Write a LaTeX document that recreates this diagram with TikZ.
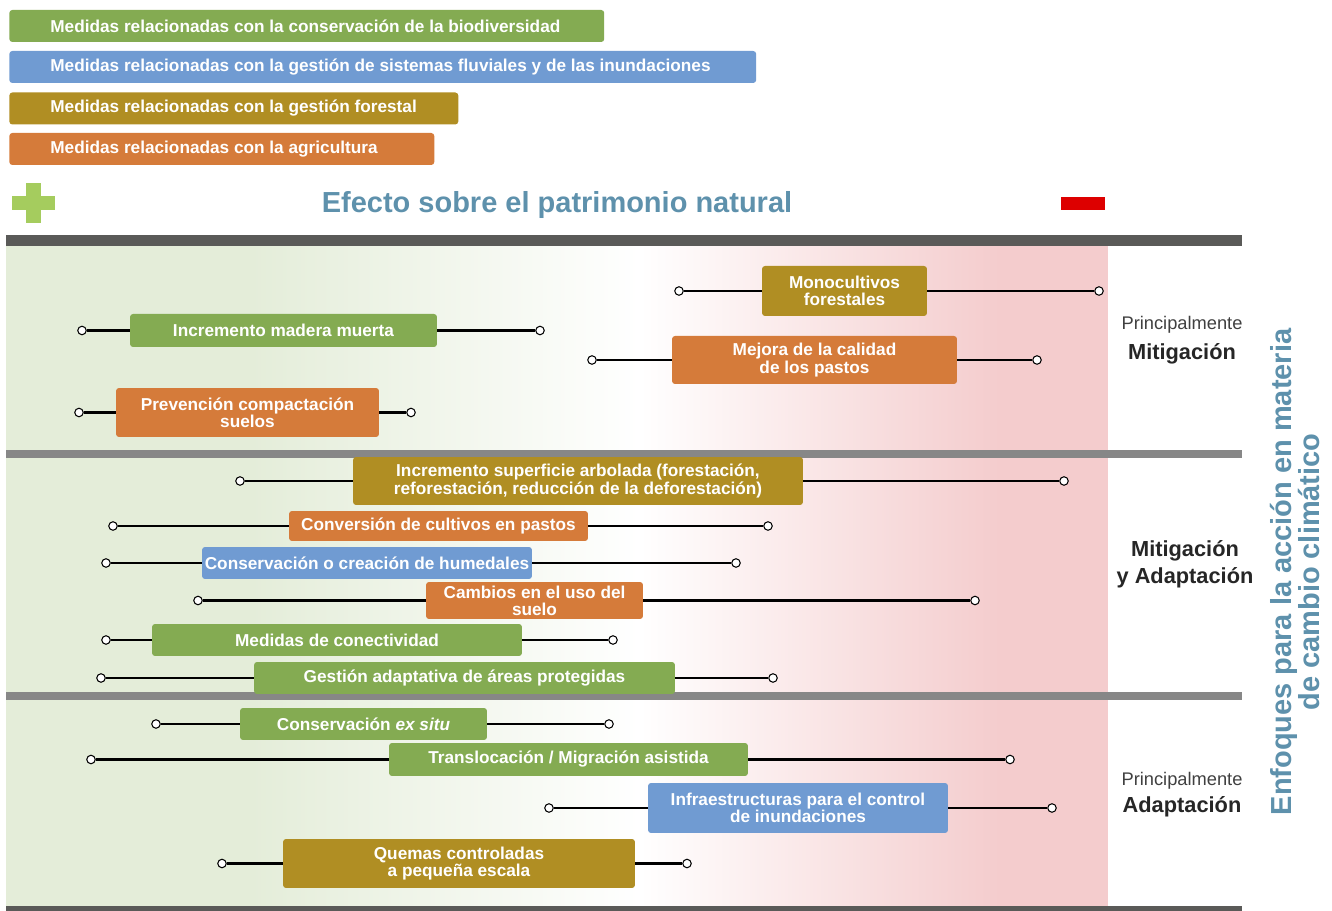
\documentclass[tikz,border=0pt]{standalone}
\usepackage{fontspec}
\setmainfont{Liberation Sans}
\usetikzlibrary{positioning}

\definecolor{verde}{RGB}{132,171,82}
\definecolor{azul}{RGB}{112,155,210}
\definecolor{ocre}{RGB}{176,142,35}
\definecolor{naranja}{RGB}{213,123,58}
\definecolor{fondoverde}{RGB}{228,237,217}
\definecolor{fondorosa}{RGB}{244,204,205}
\definecolor{titulo}{RGB}{94,145,172}
\definecolor{grisoscuro}{RGB}{90,90,88}
\definecolor{gris}{RGB}{135,135,135}
\definecolor{mas}{RGB}{165,204,94}
\definecolor{menos}{RGB}{221,0,0}

\tikzset{
  measure/.style={rounded corners=0.06cm, text=white, font=\fontsize{9.8}{9.8}\selectfont\bfseries, align=center, inner sep=0pt},
  legbar/.style={rounded corners=0.06cm, minimum height=0.64cm, anchor=west, inner sep=0pt},
  legtext/.style={text=white, font=\fontsize{9.8}{11}\selectfont\bfseries, inner sep=0pt},
  dot/.style={circle, draw, fill=white, line width=0.6pt, inner sep=0pt, minimum size=0.17cm},
  link/.style={line width=1.6pt},
  mainly/.style={font=\fontsize{10.4}{12}\selectfont, text=black!75},
  approach/.style={font=\fontsize{12.4}{15.3}\selectfont\bfseries, text=black!85, align=center}
}

\begin{document}
\begin{tikzpicture}[x=0.02cm, y=-0.02cm]
    \useasboundingbox (0,0) rectangle (1332,911);

    % leyenda
    \node[legbar, fill=verde,   minimum width=11.90cm] (bio)   at (9, 26.0) {};
    \node[legbar, fill=azul,    minimum width=14.94cm] (fluv)  at (9, 67.0) {};
    \node[legbar, fill=ocre,    minimum width=8.98cm]  (fores) at (9,108.5) {};
    \node[legbar, fill=naranja, minimum width=8.50cm]  (agri)  at (9,149.0) {};
    \node[legtext, right=0.82cm of bio.west]   (bio-t)   {Medidas relacionadas con la conservación de la biodiversidad};
    \node[legtext, right=0.82cm of fluv.west]  (fluv-t)  {Medidas relacionadas con la gestión de sistemas fluviales y de las inundaciones};
    \node[legtext, right=0.82cm of fores.west] (fores-t) {Medidas relacionadas con la gestión forestal};
    \node[legtext, right=0.82cm of agri.west]  (agri-t)  {Medidas relacionadas con la agricultura};

    % efecto
    \fill[mas] (26,183) rectangle (41,223);
    \fill[mas] (12,196) rectangle (55,210);
    \fill[menos] (1061,197) rectangle (1105,210);
    \node[font=\fontsize{16.5}{18}\selectfont\bfseries, text=titulo] (efecto) at (557,205) {Efecto sobre el patrimonio natural};

    % fondo
    \fill[fondoverde] (6,246) rectangle (250,906);
    \shade[left color=fondoverde, right color=white] (250,246) rectangle (640,906);
    \shade[left color=white, right color=fondorosa] (640,246) rectangle (1000,906);
    \fill[fondorosa] (1000,246) rectangle (1108,906);
    \fill[grisoscuro] (6,235) rectangle (1242,246);
    \fill[gris] (6,450) rectangle (1242,458);
    \fill[gris] (6,692) rectangle (1242,700);
    \fill[grisoscuro] (6,906) rectangle (1242,911);

    % principalmente mitigacion
    \node[measure, fill=ocre,    minimum width=3.30cm, minimum height=1.00cm] (mono) at (844.5,291.0) {Monocultivos\\forestales};
    \node[measure, fill=verde,   minimum width=6.14cm, minimum height=0.66cm] (imm)  at (283.5,330.5) {Incremento madera muerta};
    \node[measure, fill=naranja, minimum width=5.70cm, minimum height=0.96cm] (mcp)  at (814.5,360.0) {Mejora de la calidad\\de los pastos};
    \node[measure, fill=naranja, minimum width=5.26cm, minimum height=0.98cm] (pcs)  at (247.5,412.5) {Prevención compactación\\suelos};

    \node[dot] (mono-l) at (679,291.0) {};   \node[dot] (mono-r) at (1099,291.0) {};
    \node[dot] (imm-l)  at (82,330.5)  {};   \node[dot] (imm-r)  at (540,330.5)  {};
    \node[dot] (mcp-l)  at (592,360.0) {};   \node[dot] (mcp-r)  at (1037,360.0) {};
    \node[dot] (pcs-l)  at (79,412.5)  {};   \node[dot] (pcs-r)  at (411,412.5)  {};

    \draw[link] (mono-l) -- (mono) -- (mono-r);
    \draw[link] (imm-l) -- (imm) -- (imm-r);
    \draw[link] (mcp-l) -- (mcp) -- (mcp-r);
    \draw[link] (pcs-l) -- (pcs) -- (pcs-r);

    % mitigacion y adaptacion
    \node[measure, fill=ocre,    minimum width=9.00cm, minimum height=0.96cm] (isa)  at (578.0,481.0) {Incremento superficie arbolada (forestación,\\reforestación, reducción de la deforestación)};
    \node[measure, fill=naranja, minimum width=5.98cm, minimum height=0.60cm] (ccp)  at (438.5,526.0) {Conversión de cultivos en pastos};
    \node[measure, fill=azul,    minimum width=6.60cm, minimum height=0.64cm] (cch)  at (367.0,563.0) {Conservación o creación de humedales};
    \node[measure, fill=naranja, minimum width=4.34cm, minimum height=0.74cm] (cus)  at (534.5,600.5) {Cambios en el uso del\\suelo};
    \node[measure, fill=verde,   minimum width=7.40cm, minimum height=0.64cm] (mdc)  at (337.0,640.0) {Medidas de conectividad};
    \node[measure, fill=verde,   minimum width=8.42cm, minimum height=0.64cm] (gap)  at (464.5,678.0) {Gestión adaptativa de áreas protegidas};

    \node[dot] (isa-l) at (240,481.0) {};   \node[dot] (isa-r) at (1064,481.0) {};
    \node[dot] (ccp-l) at (113,526.0) {};   \node[dot] (ccp-r) at (768,526.0)  {};
    \node[dot] (cch-l) at (106,563.0) {};   \node[dot] (cch-r) at (736,563.0)  {};
    \node[dot] (cus-l) at (198,600.5) {};   \node[dot] (cus-r) at (975,600.5)  {};
    \node[dot] (mdc-l) at (106,640.0) {};   \node[dot] (mdc-r) at (613,640.0)  {};
    \node[dot] (gap-l) at (101,678.0) {};   \node[dot] (gap-r) at (773,678.0)  {};

    \draw[link] (isa-l) -- (isa) -- (isa-r);
    \draw[link] (ccp-l) -- (ccp) -- (ccp-r);
    \draw[link] (cch-l) -- (cch) -- (cch-r);
    \draw[link] (cus-l) -- (cus) -- (cus-r);
    \draw[link] (mdc-l) -- (mdc) -- (mdc-r);
    \draw[link] (gap-l) -- (gap) -- (gap-r);

    % principalmente adaptacion
    \node[measure, fill=verde, minimum width=4.94cm, minimum height=0.64cm] (ces) at (363.5,724.0) {Conservación \textit{ex situ}};
    \node[measure, fill=verde, minimum width=7.18cm, minimum height=0.66cm] (tma) at (568.5,759.5) {Translocación / Migración asistida};
    \node[measure, fill=azul,  minimum width=6.00cm, minimum height=1.00cm] (ici) at (798.0,808.0) {Infraestructuras para el control\\de inundaciones};
    \node[measure, fill=ocre,  minimum width=7.04cm, minimum height=0.98cm] (qce) at (459.0,863.5) {Quemas controladas\\a pequeña escala};

    \node[dot] (ces-l) at (156,724.0) {};   \node[dot] (ces-r) at (609,724.0)  {};
    \node[dot] (tma-l) at (91,759.5)  {};   \node[dot] (tma-r) at (1010,759.5) {};
    \node[dot] (ici-l) at (549,808.0) {};   \node[dot] (ici-r) at (1052,808.0) {};
    \node[dot] (qce-l) at (222,863.5) {};   \node[dot] (qce-r) at (687,863.5)  {};

    \draw[link] (ces-l) -- (ces) -- (ces-r);
    \draw[link] (tma-l) -- (tma) -- (tma-r);
    \draw[link] (ici-l) -- (ici) -- (ici-r);
    \draw[link] (qce-l) -- (qce) -- (qce-r);

    % enfoques
    \node[mainly]   (pm)  at (1182,325) {Principalmente};
    \node[approach] (mit) at (1182,354) {Mitigación};
    \node[approach] (mya) at (1185,564) {Mitigación\\y Adaptación};
    \node[mainly]   (pa)  at (1182,781) {Principalmente};
    \node[approach] (ada) at (1182,807) {Adaptación};
    \node[rotate=90, font=\fontsize{16.5}{16}\selectfont\bfseries, text=titulo, align=center] (enfoques) at (1295,572) {Enfoques para la acción en materia\\de cambio climático};
\end{tikzpicture}
\end{document}
